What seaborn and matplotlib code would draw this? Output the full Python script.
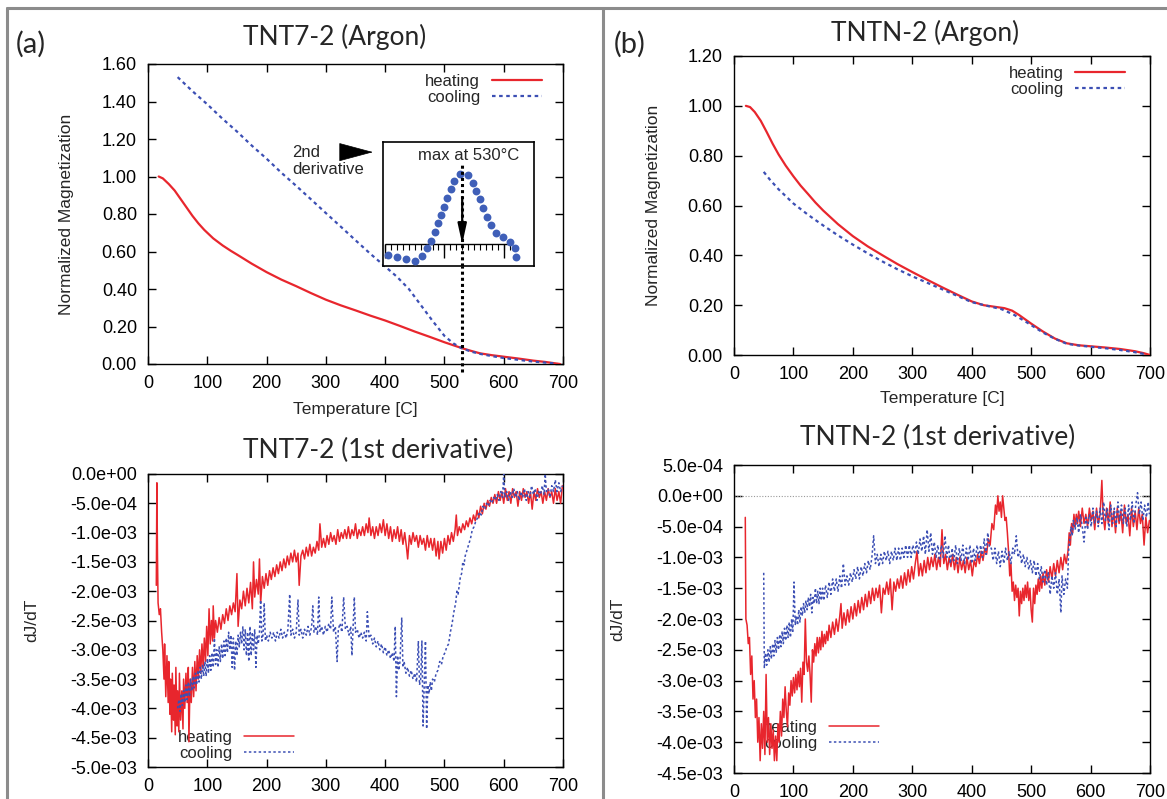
import numpy as np
import matplotlib
matplotlib.use("Agg")
import matplotlib.pyplot as plt
from matplotlib.lines import Line2D
import seaborn as sns

# ---------------- data ----------------
temp_ticks = [0, 100, 200, 300, 400, 500, 600, 700]
mag_ticks_a = [0.0, 0.2, 0.4, 0.6, 0.8, 1.0, 1.2, 1.4, 1.6]
mag_ticks_b = [0.0, 0.2, 0.4, 0.6, 0.8, 1.0, 1.2]
# derivative axes, in units of 1e-3
deriv_ticks_a = [0.0, -0.5, -1.0, -1.5, -2.0, -2.5, -3.0, -3.5, -4.0, -4.5, -5.0]
deriv_ticks_b = [0.5, 0.0, -0.5, -1.0, -1.5, -2.0, -2.5, -3.0, -3.5, -4.0, -4.5]

# TNT7-2 (Argon): normalized magnetization (temperature, M)
heat_a = [(18, 1.00), (25, 0.99), (35, 0.96), (45, 0.925), (55, 0.88), (65, 0.835),
          (75, 0.79), (85, 0.75), (95, 0.715), (101, 0.697), (110, 0.67), (126, 0.632),
          (140, 0.603), (151, 0.582), (175, 0.535), (200, 0.49), (225, 0.45), (250, 0.415),
          (275, 0.378), (300, 0.343), (325, 0.313), (350, 0.286), (375, 0.258), (400, 0.232),
          (425, 0.203), (450, 0.173), (475, 0.145), (500, 0.116), (515, 0.10), (530, 0.084),
          (545, 0.07), (560, 0.057), (580, 0.047), (600, 0.039), (625, 0.029), (650, 0.018),
          (670, 0.011), (686, 0.004), (695, 0.0)]
cool_a = [(50, 1.53), (75, 1.455), (100, 1.385), (125, 1.31), (150, 1.24), (175, 1.165),
          (200, 1.095), (225, 1.02), (250, 0.95), (275, 0.878), (300, 0.805), (325, 0.733),
          (350, 0.66), (375, 0.588), (400, 0.52), (420, 0.465), (440, 0.40), (460, 0.315),
          (480, 0.23), (500, 0.15), (515, 0.11), (530, 0.083), (545, 0.066), (560, 0.054),
          (580, 0.042), (600, 0.032), (625, 0.022), (650, 0.013), (675, 0.006), (690, 0.002)]

# inset: 2nd derivative of the cooling curve (temperature, normalized)
inset_d2 = [(404, -0.157), (420, -0.181), (435, -0.219), (450, -0.239), (463, -0.171),
            (471, -0.061), (478, 0.047), (484, 0.176), (489, 0.296), (494, 0.414),
            (500, 0.533), (505, 0.661), (511, 0.781), (517, 0.90), (526, 1.0),
            (540, 0.986), (548, 0.876), (554, 0.757), (560, 0.639), (565, 0.519),
            (571, 0.39), (578, 0.271), (587, 0.161), (599, 0.096), (611, 0.033),
            (619, -0.061), (620, -0.19)]

# TNTN-2 (Argon): normalized magnetization
heat_b = [(20, 1.00), (27, 0.995), (35, 0.975), (45, 0.94), (55, 0.895), (65, 0.848),
          (75, 0.805), (87, 0.76), (100, 0.717), (112, 0.68), (125, 0.645), (137, 0.612),
          (150, 0.58), (175, 0.525), (200, 0.477), (225, 0.436), (250, 0.40), (275, 0.365),
          (300, 0.333), (325, 0.302), (350, 0.272), (375, 0.243), (400, 0.215), (420, 0.2),
          (440, 0.193), (455, 0.188), (468, 0.178), (480, 0.16), (500, 0.126), (520, 0.094),
          (540, 0.066), (560, 0.047), (580, 0.039), (600, 0.035), (625, 0.03), (650, 0.024),
          (675, 0.015), (690, 0.007), (700, 0.0)]
cool_b = [(50, 0.735), (60, 0.705), (75, 0.665), (100, 0.608), (125, 0.562), (150, 0.52),
          (175, 0.48), (200, 0.443), (225, 0.408), (250, 0.375), (275, 0.344), (300, 0.316),
          (325, 0.29), (350, 0.264), (375, 0.238), (400, 0.212), (430, 0.195), (450, 0.184),
          (470, 0.163), (490, 0.135), (500, 0.12), (520, 0.09), (540, 0.065), (560, 0.045),
          (580, 0.038), (600, 0.033), (625, 0.027), (650, 0.02), (675, 0.011), (690, 0.004)]

# TNT7-2: 1st derivative dJ/dT (temperature, value x 1e-3)
dheat_a = [(14, -1.9), (15, -0.15), (16, -1.4), (17, -2.2), (19, -2.4), (21, -2.3), (23, -2.7),
           (25, -3.0), (27, -3.5), (28, -2.9), (30, -3.8), (32, -3.1), (34, -3.9), (35, -3.2),
           (37, -4.1), (38, -3.5), (40, -4.4), (41, -3.4), (43, -4.2), (44, -3.6), (46, -4.45),
           (47, -3.3), (49, -4.3), (50, -3.7), (52, -4.4), (53, -3.4), (55, -4.2), (57, -3.7),
           (59, -4.35), (60, -3.5), (62, -4.0), (64, -3.4), (66, -3.9), (68, -3.3), (69, -4.57),
           (71, -3.5), (73, -3.9), (75, -3.3), (77, -3.8), (79, -3.2), (81, -3.7), (83, -3.1),
           (85, -3.5), (87, -3.0), (89, -3.4), (91, -2.9), (93, -3.3), (95, -2.8), (97, -3.2),
           (99, -2.6), (101, -3.1), (103, -2.3), (105, -2.9), (107, -2.5), (109, -2.85),
           (110, -2.25), (112, -2.8), (114, -2.5), (117, -2.7), (120, -2.45), (123, -2.65),
           (126, -2.4), (129, -2.55), (132, -2.3), (135, -2.5), (138, -2.25), (141, -2.4),
           (144, -2.2), (147, -2.35), (150, -1.7), (152, -2.6), (155, -2.15), (158, -2.3),
           (161, -2.0), (164, -2.25), (167, -1.95), (170, -2.2), (173, -1.85), (176, -2.3),
           (178, -1.5), (180, -2.1), (183, -1.8), (186, -2.05), (188, -1.45), (190, -2.2),
           (193, -1.75), (196, -1.95), (199, -1.7), (202, -1.9), (205, -1.65), (208, -1.8),
           (211, -1.6), (214, -1.75), (217, -1.55), (220, -1.7), (223, -1.5), (226, -1.65),
           (229, -1.45), (232, -1.6), (235, -1.4), (238, -1.55), (241, -1.35), (244, -1.5),
           (247, -1.3), (250, -1.5), (253, -1.35), (255, -1.9), (258, -1.4), (261, -1.3),
           (264, -1.45), (267, -1.25), (270, -1.4), (273, -1.2), (276, -1.4), (279, -1.25),
           (282, -1.35), (285, -1.15), (288, -1.3), (290, -0.85), (293, -1.25), (296, -1.1),
           (299, -1.25), (302, -1.05), (305, -1.2), (308, -1.0), (311, -1.15), (314, -1.05),
           (317, -1.2), (320, -0.95), (323, -1.15), (326, -1.0), (329, -1.1), (332, -0.95),
           (335, -1.1), (338, -0.9), (341, -1.1), (344, -0.95), (347, -1.05), (350, -0.85),
           (353, -1.1), (356, -0.95), (359, -1.05), (362, -0.9), (365, -1.05), (368, -0.85),
           (371, -1.0), (373, -0.75), (376, -1.05), (379, -0.9), (382, -1.1), (385, -0.9),
           (388, -1.05), (391, -0.85), (394, -1.0), (397, -0.78), (400, -1.05), (403, -0.85),
           (406, -1.1), (409, -0.9), (412, -1.15), (415, -0.95), (418, -1.1), (421, -0.9),
           (424, -1.15), (427, -0.95), (430, -1.2), (433, -1.0), (436, -1.25), (438, -1.45),
           (441, -1.05), (444, -1.2), (447, -1.0), (450, -1.15), (453, -1.05), (456, -1.25),
           (459, -1.05), (462, -1.2), (465, -1.1), (468, -1.3), (471, -1.05), (474, -1.25),
           (477, -1.1), (480, -1.3), (483, -1.1), (486, -1.4), (489, -1.15), (491, -1.45),
           (494, -1.15), (497, -1.35), (500, -1.1), (503, -1.3), (506, -1.05), (509, -1.2),
           (512, -1.0), (515, -1.15), (518, -0.95), (520, -0.7), (522, -1.05), (525, -0.9),
           (528, -1.0), (531, -0.85), (534, -0.95), (537, -0.8), (540, -0.9), (543, -0.75),
           (546, -0.85), (549, -0.7), (552, -0.8), (555, -0.62), (558, -0.75), (561, -0.55),
           (564, -0.68), (567, -0.5), (570, -0.6), (573, -0.45), (576, -0.55), (579, -0.4),
           (582, -0.5), (585, -0.35), (588, -0.5), (591, -0.3), (594, -0.45), (597, -0.3),
           (600, -0.5), (603, -0.25), (606, -0.45), (609, -0.3), (612, -0.5), (615, -0.25),
           (618, -0.4), (621, -0.3), (624, -0.55), (627, -0.3), (630, -0.45), (633, -0.25),
           (636, -0.4), (639, -0.3), (642, -0.5), (645, -0.3), (648, -0.6), (651, -0.3),
           (654, -0.45), (657, -0.25), (660, -0.4), (663, -0.3), (666, -0.5), (669, -0.3),
           (672, -0.45), (675, -0.25), (678, -0.4), (681, -0.3), (684, -0.5), (687, -0.25),
           (690, -0.45), (693, -0.3), (696, -0.5), (699, -0.2)]
dcool_a = [(50, -4.0), (52, -3.85), (54, -4.05), (56, -3.75), (58, -3.95), (60, -3.7), (62, -3.9),
           (64, -3.6), (66, -3.85), (68, -3.55), (70, -3.8), (72, -3.5), (74, -3.7), (76, -3.45),
           (78, -3.65), (80, -3.4), (82, -3.6), (84, -3.35), (86, -3.55), (88, -3.3), (90, -3.5),
           (92, -3.25), (94, -3.45), (96, -3.2), (98, -3.45), (100, -3.15), (102, -3.4),
           (104, -3.1), (106, -3.35), (108, -3.05), (110, -3.3), (112, -2.8), (114, -3.25),
           (116, -3.0), (118, -3.3), (120, -2.95), (122, -3.2), (124, -2.9), (126, -3.15),
           (128, -2.85), (130, -3.1), (132, -2.8), (134, -3.05), (136, -2.7), (138, -3.0),
           (140, -2.75), (142, -3.3), (144, -2.8), (146, -3.35), (148, -2.85), (150, -3.1),
           (152, -2.75), (154, -2.95), (156, -2.7), (158, -2.9), (160, -2.6), (162, -3.0),
           (164, -2.65), (166, -3.1), (168, -2.7), (170, -3.2), (172, -2.6), (174, -3.1),
           (176, -2.7), (178, -3.0), (180, -2.65), (182, -3.3), (184, -2.75), (186, -2.9),
           (188, -2.7), (190, -2.15), (192, -2.85), (194, -2.75), (196, -2.2), (198, -2.85),
           (200, -2.75), (203, -2.85), (206, -2.7), (209, -2.8), (212, -2.7), (215, -2.85),
           (218, -2.7), (221, -2.8), (224, -2.65), (227, -2.8), (230, -2.7), (233, -2.8),
           (236, -2.65), (239, -2.05), (241, -2.75), (244, -2.65), (247, -2.8), (250, -2.7),
           (253, -2.15), (255, -2.75), (258, -2.65), (261, -2.8), (264, -2.65), (267, -2.75),
           (270, -2.6), (273, -2.75), (276, -2.6), (278, -2.25), (280, -2.7), (283, -2.6),
           (286, -2.75), (288, -2.1), (290, -2.7), (293, -2.6), (296, -2.75), (299, -2.6),
           (302, -2.7), (305, -2.55), (308, -2.65), (310, -2.1), (313, -2.7), (316, -2.6),
           (319, -3.2), (321, -2.65), (324, -2.55), (327, -2.7), (330, -2.1), (333, -2.65),
           (336, -2.6), (339, -2.75), (342, -2.6), (344, -3.1), (346, -2.6), (348, -2.1),
           (350, -2.7), (353, -2.65), (356, -2.8), (359, -2.7), (362, -2.8), (365, -2.7),
           (368, -2.85), (370, -2.35), (373, -2.8), (376, -2.75), (379, -2.9), (382, -2.8),
           (385, -2.95), (388, -2.85), (391, -3.0), (394, -2.9), (397, -3.05), (400, -2.95),
           (403, -3.1), (406, -3.0), (409, -3.15), (412, -3.05), (415, -3.2), (417, -2.6),
           (419, -3.8), (421, -3.1), (423, -3.35), (425, -3.2), (428, -2.45), (430, -3.3),
           (432, -3.2), (435, -3.4), (438, -3.3), (441, -3.45), (444, -3.35), (447, -3.5),
           (450, -3.4), (453, -3.55), (456, -2.85), (458, -3.6), (460, -3.5), (462, -2.85),
           (464, -4.3), (466, -3.55), (468, -2.85), (470, -4.35), (472, -3.6), (474, -3.75),
           (476, -3.55), (478, -3.7), (480, -3.5), (483, -3.55), (486, -3.4), (489, -3.35),
           (492, -3.2), (495, -3.25), (498, -3.1), (501, -3.05), (504, -2.95), (507, -2.9),
           (510, -2.7), (513, -2.55), (516, -2.35), (519, -2.2), (521, -2.0), (523, -2.05),
           (525, -1.9), (527, -1.75), (529, -1.7), (531, -1.5), (533, -1.55), (535, -1.4),
           (538, -1.3), (541, -1.2), (544, -1.1), (547, -0.95), (550, -0.9), (553, -0.8),
           (556, -0.75), (559, -0.65), (562, -0.7), (565, -0.55), (568, -0.6), (571, -0.5),
           (574, -0.55), (577, -0.45), (580, -0.5), (583, -0.4), (586, -0.45), (589, -0.35),
           (592, -0.45), (595, -0.3), (598, -0.4), (600, 0.0), (602, -0.4), (605, -0.3),
           (608, -0.45), (611, -0.3), (614, -0.4), (617, -0.25), (620, -0.4), (623, -0.3),
           (626, -0.45), (629, -0.3), (632, -0.4), (635, -0.25), (638, -0.45), (641, -0.3),
           (644, -0.4), (647, -0.2), (650, -0.35), (653, -0.25), (656, -0.45), (659, -0.3),
           (662, -0.35), (665, -0.2), (668, -0.35), (670, 0.0), (672, -0.3), (675, -0.25),
           (678, -0.4), (681, -0.2), (684, -0.3), (687, -0.1), (690, -0.3), (693, -0.15),
           (696, -0.3), (699, -0.2)]

# TNTN-2: 1st derivative dJ/dT (temperature, value x 1e-3)
dheat_b = [(19, -0.35), (20, -2.0), (22, -2.1), (24, -2.4), (26, -2.3), (28, -2.9), (30, -2.6),
           (32, -3.3), (34, -3.0), (36, -3.6), (38, -3.3), (40, -4.0), (42, -3.6), (44, -4.3),
           (46, -3.7), (48, -4.1), (50, -3.5), (52, -4.2), (54, -2.9), (56, -4.0), (58, -3.6),
           (60, -4.2), (62, -3.7), (64, -4.1), (66, -3.8), (68, -4.3), (70, -3.9), (72, -4.3),
           (74, -3.7), (76, -4.0), (78, -3.5), (80, -3.9), (82, -3.3), (84, -3.6), (86, -3.1),
           (88, -3.5), (90, -3.75), (92, -3.2), (94, -3.4), (96, -3.0), (98, -3.25), (100, -2.95),
           (102, -3.2), (104, -2.9), (106, -3.15), (108, -2.85), (110, -3.1), (112, -2.8),
           (114, -3.35), (116, -2.7), (118, -2.9), (120, -2.0), (122, -2.7), (124, -2.85),
           (126, -2.6), (128, -2.9), (130, -3.35), (132, -2.5), (134, -2.7), (136, -2.4),
           (138, -2.6), (140, -2.3), (142, -2.55), (144, -2.3), (146, -2.5), (148, -2.2),
           (150, -2.45), (152, -2.25), (154, -2.4), (156, -2.2), (158, -2.35), (160, -2.1),
           (163, -2.3), (166, -2.05), (169, -2.25), (172, -2.0), (175, -2.2), (178, -1.95),
           (180, -1.75), (182, -2.15), (185, -1.9), (188, -2.1), (191, -1.85), (194, -2.05),
           (197, -1.8), (200, -2.0), (203, -1.75), (206, -1.95), (209, -1.7), (212, -1.9),
           (215, -1.65), (218, -1.85), (221, -1.6), (224, -1.8), (227, -1.55), (230, -1.75),
           (233, -1.5), (236, -1.7), (239, -1.5), (242, -1.65), (245, -1.45), (248, -1.9),
           (251, -1.5), (254, -1.6), (257, -1.4), (260, -1.6), (263, -1.35), (266, -1.85),
           (269, -1.4), (272, -1.55), (275, -1.35), (278, -1.5), (281, -1.3), (284, -1.5),
           (287, -1.25), (290, -1.45), (293, -1.2), (296, -1.4), (299, -1.15), (302, -1.35),
           (305, -1.1), (308, -0.9), (311, -1.3), (314, -1.1), (317, -1.3), (320, -1.05),
           (323, -1.25), (326, -1.0), (329, -1.2), (332, -1.0), (335, -1.15), (338, -0.95),
           (341, -1.2), (344, -1.0), (347, -1.15), (350, -0.55), (353, -1.1), (356, -0.95),
           (359, -1.2), (362, -1.0), (365, -1.15), (368, -0.95), (371, -1.2), (374, -1.0),
           (377, -1.25), (380, -1.0), (383, -1.2), (386, -1.05), (389, -1.25), (392, -1.0),
           (395, -1.2), (398, -1.05), (401, -1.3), (404, -1.05), (407, -1.15), (410, -0.95),
           (413, -1.1), (416, -0.9), (419, -1.05), (422, -0.85), (425, -0.95), (428, -0.7),
           (431, -0.8), (434, -0.45), (437, -0.55), (440, -0.15), (442, -0.3), (444, 0.0),
           (446, -0.25), (448, -0.1), (450, -0.35), (452, 0.0), (454, -0.2), (456, -0.4),
           (458, -0.35), (460, -0.6), (462, -0.9), (464, -1.3), (466, -1.1), (468, -1.55),
           (470, -1.4), (472, -1.7), (474, -1.45), (476, -1.65), (478, -1.5), (480, -1.95),
           (482, -1.55), (484, -1.75), (486, -1.5), (488, -1.7), (490, -1.45), (492, -1.65),
           (494, -1.4), (496, -1.7), (498, -1.5), (500, -1.85), (502, -2.05), (504, -1.5),
           (506, -1.75), (508, -1.45), (510, -1.6), (512, -1.35), (514, -1.55), (516, -1.3),
           (518, -1.5), (520, -1.25), (523, -1.45), (526, -1.2), (529, -1.4), (532, -1.15),
           (535, -1.35), (538, -1.1), (541, -1.3), (544, -1.05), (547, -1.25), (550, -1.0),
           (553, -1.2), (556, -0.95), (559, -1.1), (562, -0.9), (564, -0.6), (566, -0.8),
           (568, -0.45), (570, -0.6), (572, -0.3), (574, -0.5), (576, -0.3), (578, -0.45),
           (580, -0.25), (583, -0.5), (586, -0.2), (589, -0.45), (592, -0.3), (595, -0.5),
           (598, -0.2), (601, -0.4), (604, -0.25), (607, -0.55), (610, -0.2), (613, -0.45),
           (616, -0.3), (619, 0.25), (621, -0.3), (624, -0.55), (627, -0.2), (630, -0.45),
           (633, -0.1), (636, -0.5), (639, -0.25), (642, -0.6), (645, -0.2), (648, -0.45),
           (651, -0.25), (654, -0.6), (657, -0.15), (660, -0.45), (663, -0.3), (666, -0.65),
           (669, -0.2), (672, -0.5), (675, -0.25), (678, -0.55), (681, -0.2), (684, -0.45),
           (687, -0.3), (690, -0.8), (693, -0.35), (696, -0.6), (699, -0.4)]
dcool_b = [(50, -1.25), (51, -2.8), (53, -2.55), (55, -2.75), (57, -2.5), (59, -2.7), (61, -2.45),
           (63, -2.65), (65, -2.4), (67, -2.6), (69, -2.35), (71, -2.55), (73, -2.3), (75, -2.5),
           (77, -2.25), (79, -2.45), (81, -2.2), (83, -2.4), (85, -2.15), (87, -2.35), (89, -2.1),
           (91, -2.3), (93, -2.05), (95, -2.3), (97, -2.0), (99, -2.2), (101, -1.4), (103, -2.1),
           (105, -1.95), (107, -2.1), (109, -1.85), (111, -2.05), (113, -1.8), (115, -1.95),
           (117, -1.75), (119, -1.9), (121, -1.7), (123, -1.85), (125, -1.65), (127, -1.8),
           (129, -1.6), (131, -1.9), (133, -1.65), (135, -1.75), (137, -1.5), (139, -1.75),
           (141, -1.55), (143, -1.75), (145, -1.5), (147, -1.7), (149, -1.5), (151, -1.7),
           (154, -1.45), (157, -1.65), (160, -1.4), (163, -1.6), (166, -1.35), (169, -1.55),
           (172, -1.35), (175, -1.55), (178, -1.3), (181, -1.5), (184, -1.1), (187, -1.45),
           (190, -1.3), (193, -1.45), (196, -1.25), (199, -1.4), (202, -1.2), (205, -1.35),
           (208, -1.15), (211, -1.35), (214, -1.15), (217, -1.3), (220, -1.1), (223, -1.25),
           (226, -1.05), (229, -1.2), (232, -1.0), (235, -0.65), (238, -1.1), (241, -0.95),
           (244, -1.15), (247, -0.95), (250, -1.1), (253, -0.9), (256, -1.05), (259, -0.9),
           (262, -1.1), (265, -0.9), (268, -1.05), (271, -0.85), (274, -1.05), (277, -0.85),
           (280, -1.05), (283, -0.85), (286, -1.0), (289, -0.8), (292, -1.0), (295, -0.8),
           (298, -1.0), (301, -0.8), (304, -0.95), (307, -0.75), (310, -0.95), (313, -0.7),
           (316, -0.9), (319, -0.65), (322, -0.95), (325, -0.55), (328, -0.9), (331, -0.6),
           (334, -0.95), (337, -0.75), (340, -1.0), (343, -0.8), (346, -1.05), (349, -0.8),
           (352, -1.0), (355, -0.65), (358, -1.0), (361, -0.8), (364, -1.1), (367, -0.85),
           (370, -1.05), (373, -0.8), (376, -1.1), (379, -0.85), (382, -1.05), (385, -0.8),
           (388, -1.1), (391, -0.85), (394, -1.05), (397, -0.8), (400, -1.1), (403, -0.85),
           (406, -1.05), (409, -0.8), (412, -1.0), (415, -0.8), (418, -1.0), (421, -0.7),
           (424, -0.95), (427, -0.6), (430, -0.85), (433, -0.85), (436, -1.05), (439, -0.85),
           (442, -1.1), (445, -0.9), (448, -1.15), (451, -0.9), (454, -1.1), (457, -0.85),
           (460, -1.05), (463, -0.9), (466, -1.1), (469, -0.85), (472, -0.95), (475, -0.65),
           (478, -1.0), (481, -0.9), (484, -1.1), (487, -0.95), (490, -1.15), (493, -1.0),
           (496, -1.2), (499, -1.05), (502, -1.25), (505, -1.05), (508, -1.3), (511, -1.1),
           (514, -1.35), (517, -1.15), (520, -1.4), (523, -1.2), (526, -1.45), (529, -1.25),
           (532, -1.6), (535, -1.3), (538, -1.5), (541, -1.25), (544, -1.6), (547, -1.35),
           (550, -1.9), (552, -1.3), (555, -1.6), (558, -1.35), (561, -1.5), (563, -0.9),
           (565, -0.7), (567, -0.5), (569, -0.65), (571, -0.4), (574, -0.55), (577, -0.35),
           (580, -0.6), (583, -0.3), (586, -0.5), (589, -0.75), (592, -0.35), (595, -0.55),
           (598, -0.3), (601, -0.5), (604, -0.2), (607, -0.45), (610, -0.25), (613, -0.5),
           (616, -0.2), (619, -0.45), (622, -0.1), (625, -0.4), (628, -0.2), (631, -0.55),
           (634, -0.15), (637, -0.45), (640, -0.2), (643, -0.5), (646, -0.1), (649, -0.4),
           (652, -0.15), (655, -0.45), (658, -0.2), (661, -0.5), (664, -0.15), (667, -0.4),
           (670, -0.1), (673, -0.45), (676, -0.15), (679, 0.05), (682, -0.3), (685, -0.1),
           (688, -0.4), (691, -0.15), (694, -0.35), (697, -0.1), (699, -0.3)]

# ---------------- style ----------------
sns.set_style("ticks")
plt.rcParams["font.family"] = ["Liberation Sans", "DejaVu Sans"]
plt.rcParams["font.size"] = 12

RED = "#e8262d"
BLUE = "#3c4fb4"
DOT_BLUE = "#3f5fb8"
COOL_LS = (0, (1.6, 1.6))
TITLE_FONT = ["Lato", "DejaVu Sans"]
W, H = 1167, 799

fig = plt.figure(figsize=(W / 100, H / 100), dpi=100)


def rect(x0, y0, x1, y1):
    # pixel box -> figure fraction
    return [x0 / W, 1 - y1 / H, (x1 - x0) / W, (y1 - y0) / H]


def style_axes(ax, yticks, ylabels, ylim):
    ax.set_xlim(0, 700)
    ax.set_ylim(*ylim)
    ax.set_xticks(temp_ticks)
    ax.set_xticklabels([str(t) for t in temp_ticks])
    ax.set_yticks(yticks)
    ax.set_yticklabels(ylabels)
    ax.tick_params(direction="in", length=6, width=1, top=True, right=True,
                   bottom=True, left=True, labelsize=13, pad=8, colors="black")
    for sp in ax.spines.values():
        sp.set_visible(True)
        sp.set_color("black")
        sp.set_linewidth(1.0)


def draw_pair(ax, heat, cool, lw):
    th, vh = zip(*heat)
    tc, vc = zip(*cool)
    sns.lineplot(x=list(th), y=list(vh), ax=ax, color=RED, linewidth=lw,
                 estimator=None, sort=False, label="heating", zorder=3)
    sns.lineplot(x=list(tc), y=list(vc), ax=ax, color=BLUE, linewidth=lw,
                 linestyle=COOL_LS, estimator=None, sort=False, label="cooling", zorder=3)


def add_legend(ax, loc, anchor, under_data=False):
    leg = ax.legend(loc=loc, bbox_to_anchor=anchor, frameon=False, markerfirst=False,
                    handlelength=3.0, handletextpad=0.7, labelspacing=0.05,
                    borderaxespad=0, borderpad=0, fontsize=12)
    if under_data:
        leg.set_zorder(1)


# ---- (a) top: TNT7-2 (Argon) ----
ax1 = fig.add_axes(rect(148, 64, 563, 364))
draw_pair(ax1, heat_a, cool_a, 1.6)
style_axes(ax1, mag_ticks_a, [f"{v:.2f}" for v in mag_ticks_a], (0, 1.6))
ax1.set_xlabel("Temperature [C]", fontsize=12.5)
ax1.set_ylabel("Normalized Magnetization", fontsize=12.5)
ax1.xaxis.set_label_coords(0.5, -0.128)
ax1.yaxis.set_label_coords(-0.178, 0.5)
add_legend(ax1, "upper right", (0.949, 0.967))
ax1.vlines(530, -0.043, 0.525, colors="black", linestyles=[(0, (1, 1))],
           linewidth=2.2, clip_on=False, zorder=4)
ax1.text(243, 1.083, "2nd\nderivative", ha="left", va="center", fontsize=12, linespacing=1.1)
ax1.annotate("", xy=(379.5, 1.13), xytext=(325, 1.13),
             arrowprops=dict(arrowstyle="-|>,head_length=1.64,head_width=0.44",
                             color="black", lw=0.5, shrinkA=0, shrinkB=0, mutation_scale=14))

# inset with 2nd derivative
ax_in = fig.add_axes(rect(383, 142, 534, 266))
ax_in.set_xlim(396.4, 651.1)
ax_in.set_ylim(-0.314, 1.457)
ax_in.set_xticks([])
ax_in.set_yticks([])
for sp in ax_in.spines.values():
    sp.set_visible(True)
    sp.set_color("black")
    sp.set_linewidth(1.2)
ax_in.hlines(0, 400, 611, colors="black", linewidth=1.0)
ax_in.vlines(np.arange(400, 611, 10), -0.086, 0, colors="black", linewidth=0.8)
ax_in.vlines([400, 500, 600], -0.2, 0, colors="black", linewidth=1.0)
ti, vi = zip(*inset_d2)
sns.scatterplot(x=list(ti), y=list(vi), ax=ax_in, s=32, color=DOT_BLUE,
                linewidth=0, legend=False, zorder=3)
ax_in.vlines(530, -0.314, 1.157, colors="black", linestyles=[(0, (1, 1))], linewidth=2.2, zorder=4)
ax_in.annotate("", xy=(530, 0.0), xytext=(530, 0.671),
               arrowprops=dict(arrowstyle="-|>,head_length=1.0,head_width=0.22",
                               color="black", lw=1.6, shrinkA=0, shrinkB=0))
ax_in.text(541, 1.27, "max at 530°C", ha="center", va="center", fontsize=12)

# ---- (b) top: TNTN-2 (Argon) ----
ax2 = fig.add_axes(rect(734, 56, 1150, 355))
draw_pair(ax2, heat_b, cool_b, 1.6)
style_axes(ax2, mag_ticks_b, [f"{v:.2f}" for v in mag_ticks_b], (0, 1.2))
ax2.set_xlabel("Temperature [C]", fontsize=12.5)
ax2.set_ylabel("Normalized Magnetization", fontsize=12.5)
ax2.xaxis.set_label_coords(0.5, -0.12)
ax2.yaxis.set_label_coords(-0.176, 0.5)
add_legend(ax2, "upper right", (0.94, 0.967))

# ---- (a) bottom: TNT7-2 1st derivative ----
ax3 = fig.add_axes(rect(148, 474, 563, 767))
draw_pair(ax3, dheat_a, dcool_a, 1.1)
style_axes(ax3, deriv_ticks_a, [f"{v * 1e-3:.1e}" for v in deriv_ticks_a], (-5.0, 0.0))
ax3.set_xlabel("")
ax3.set_ylabel("dJ/dT", fontsize=12.5)
ax3.yaxis.set_label_coords(-0.262, 0.5)
add_legend(ax3, "lower right", (0.352, 0.02), under_data=True)

# ---- (b) bottom: TNTN-2 1st derivative ----
ax4 = fig.add_axes(rect(734, 465, 1150, 773))
ax4.axhline(0, color="#9a9a9a", linestyle=(0, (1, 1.5)), linewidth=0.8, zorder=1)
draw_pair(ax4, dheat_b, dcool_b, 1.1)
style_axes(ax4, deriv_ticks_b, [f"{v * 1e-3:.1e}" for v in deriv_ticks_b], (-4.5, 0.5))
ax4.set_xlabel("")
ax4.set_ylabel("dJ/dT", fontsize=12.5)
ax4.yaxis.set_label_coords(-0.262, 0.5)
add_legend(ax4, "lower right", (0.349, 0.071), under_data=True)

# ---- titles and panel letters ----
fig.text(335 / W, 1 - 37 / H, "TNT7-2 (Argon)", ha="center", va="center",
         fontsize=19, family=TITLE_FONT)
fig.text(925 / W, 1 - 33 / H, "TNTN-2 (Argon)", ha="center", va="center",
         fontsize=19, family=TITLE_FONT)
fig.text(378 / W, 1 - 450 / H, "TNT7-2 (1st derivative)", ha="center", va="center",
         fontsize=19, family=TITLE_FONT)
fig.text(938 / W, 1 - 437 / H, "TNTN-2 (1st derivative)", ha="center", va="center",
         fontsize=19, family=TITLE_FONT)
fig.text(31 / W, 1 - 44 / H, "(a)", ha="center", va="center", fontsize=21, family=TITLE_FONT)
fig.text(630 / W, 1 - 44 / H, "(b)", ha="center", va="center", fontsize=21, family=TITLE_FONT)

# ---- grey frame and divider ----
frame_kw = dict(transform=fig.transFigure, color="#8c8c8c", linewidth=2.2)
fig.add_artist(Line2D([7 / W, 1], [1 - 8 / H, 1 - 8 / H], **frame_kw))
fig.add_artist(Line2D([7 / W, 7 / W], [0, 1 - 8 / H], **frame_kw))
fig.add_artist(Line2D([603 / W, 603 / W], [0, 1 - 8 / H], **frame_kw))

fig.savefig("out.png", dpi=100)
